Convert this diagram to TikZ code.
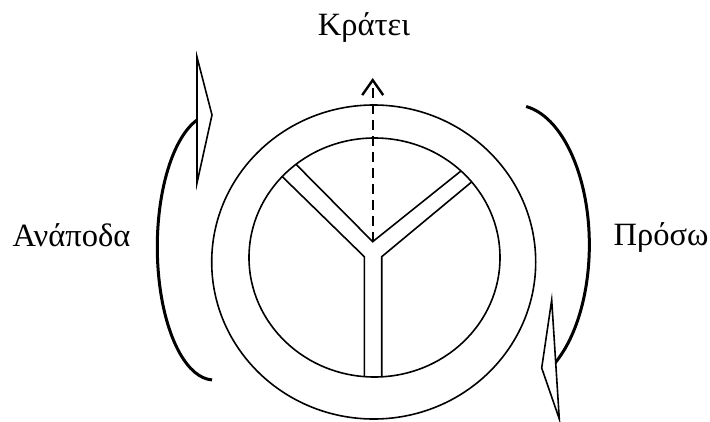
\documentclass[tikz,border=0pt]{standalone}
\usepackage{fontspec}
\setmainfont{Liberation Serif}
\usetikzlibrary{arrows.meta}
\tikzset{
  ring/.style={line width=1.6pt},
  spoke/.style={line width=1.6pt, line join=miter},
  turnarc/.style={line width=3pt},
  turnhead/.style={line width=1.6pt, fill=white, line join=miter},
  dasharrow/.style={line width=2.4pt, dash pattern=on 10pt off 6pt, -{Straight Barb[length=15pt,width=21pt,line width=2.4pt]}},
  lbl/.style={font=\fontsize{32.5}{38}\selectfont, anchor=base, inner sep=0pt}
}
\begin{document}
\begin{tikzpicture}[x=1pt,y=-1pt]
\useasboundingbox (0,0) rectangle (710,421);
% rings
\draw[ring] (373.7,262) ellipse[x radius=162, y radius=157];
\draw[ring] (374.5,257.5) ellipse[x radius=125.5, y radius=119.5];
% spokes
\coordinate (apex) at (372.7,241.7);
\coordinate (tip) at (372.7,78);
\coordinate (stemL) at (364.3,256.7);
\coordinate (stemR) at (381.7,256.7);
\begin{scope}
\clip (374.5,257.5) ellipse[x radius=125.5, y radius=119.5];
\draw[spoke] (272.3,166.9) -- (stemL) -- (364.3,400);
\draw[spoke] (286.7,154.9) -- (apex) -- (472.5,161.7);
\draw[spoke] (481.7,173.6) -- (stemR) -- (381.7,400);
\end{scope}
% dashed arrow
\draw[dasharrow] (apex) -- (tip);
% left turn arrow
\draw[turnarc] (197,120) arc[start angle=252.7, end angle=91.8, x radius=56.5, y radius=133];
\draw[turnhead] (197,57) -- (212,115) -- (197,183) -- cycle;
% right turn arrow
\draw[turnarc] (526.1,106.5) arc[start angle=-81.5, end angle=57.4, x radius=74.2, y radius=140];
\draw[turnhead] (551.7,300) -- (541.7,368) -- (559.3,419) -- cycle;
% labels
\node[lbl] (kratei) at (364,35) {Κράτει};
\node[lbl] (anapoda) at (71.5,246.7) {Ανάποδα};
\node[lbl] (proso) at (661,245) {Πρόσω};
\end{tikzpicture}
\end{document}
